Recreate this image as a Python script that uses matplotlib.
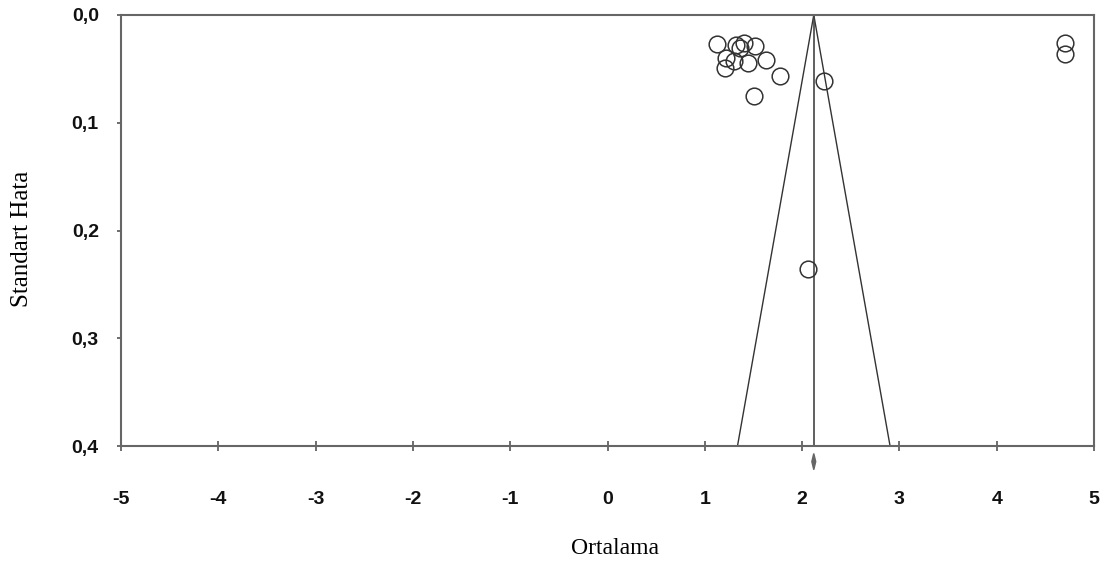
import numpy as np
import matplotlib
matplotlib.use("Agg")
import matplotlib.pyplot as plt
from matplotlib.ticker import FuncFormatter

# ---- dados ----
ortalama = [1.13, 1.32, 1.40, 1.52, 1.36, 1.22, 1.21, 1.30, 1.44, 1.63,
            1.77, 1.51, 2.23, 2.06, 4.70, 4.70]
std_hata = [0.027, 0.028, 0.026, 0.029, 0.031, 0.040, 0.049, 0.043, 0.045, 0.042,
            0.057, 0.075, 0.061, 0.236, 0.026, 0.036]

mean_effect = 2.12
ci_effect = [2.10, 2.14]
se_max = 0.4

x_ticks = [-5, -4, -3, -2, -1, 0, 1, 2, 3, 4, 5]
y_ticks = [0.0, 0.1, 0.2, 0.3, 0.4]

fig = plt.figure(figsize=(11.03, 5.64), dpi=100)
ax = fig.add_axes([121 / 1103, 1 - 446 / 564, (1094 - 121) / 1103, (446 - 15) / 564])

# funil
ax.plot([mean_effect - 1.96 * se_max, mean_effect, mean_effect + 1.96 * se_max],
        [se_max, 0, se_max], color="#333333", lw=1.0, zorder=2)
ax.plot([mean_effect, mean_effect], [0, se_max], color="#444444", lw=1.2, zorder=2)

# estudos
ax.plot(ortalama, std_hata, linestyle="none", marker="o", markersize=12,
        markerfacecolor="none", markeredgecolor="#333333", markeredgewidth=1.1, zorder=3)

# efeito combinado (losango abaixo do eixo)
yd = se_max + 0.0145
hh = 0.0075
ax.fill([ci_effect[0], mean_effect, ci_effect[1], mean_effect],
        [yd, yd - hh, yd, yd + hh], color="#666666", clip_on=False, zorder=4)

ax.set_xlim(-5, 5)
ax.set_ylim(se_max, 0)
ax.set_xticks(x_ticks)
ax.set_yticks(y_ticks)
ax.xaxis.set_major_formatter(FuncFormatter(lambda v, p: "%d" % v))
ax.yaxis.set_major_formatter(FuncFormatter(lambda v, p: ("%.1f" % v).replace(".", ",")))

for s in ax.spines.values():
    s.set_color("#666666")
    s.set_linewidth(1.5)

ax.tick_params(axis="x", direction="inout", length=7, width=1.2, color="#555555", pad=29)
ax.tick_params(axis="y", direction="out", length=3, width=1.2, color="#555555", pad=13)
for lab in ax.get_xticklabels() + ax.get_yticklabels():
    lab.set_family(["Liberation Sans", "DejaVu Sans"])
    lab.set_fontweight("bold")
    lab.set_fontsize(14)
    lab.set_color("#111111")

ax.set_xlabel("Ortalama", family=["Liberation Serif", "DejaVu Serif"], fontsize=17)
ax.set_ylabel("Standart Hata", family=["Liberation Serif", "DejaVu Serif"], fontsize=18)
ax.xaxis.set_label_coords((615 - 121) / 973, (446 - 548) / 431)
ax.yaxis.set_label_coords((22 - 121) / 973, 0.48)
ax.xaxis.label.set_va("center")
ax.yaxis.label.set_va("center")

fig.savefig("out.png", dpi=100)
